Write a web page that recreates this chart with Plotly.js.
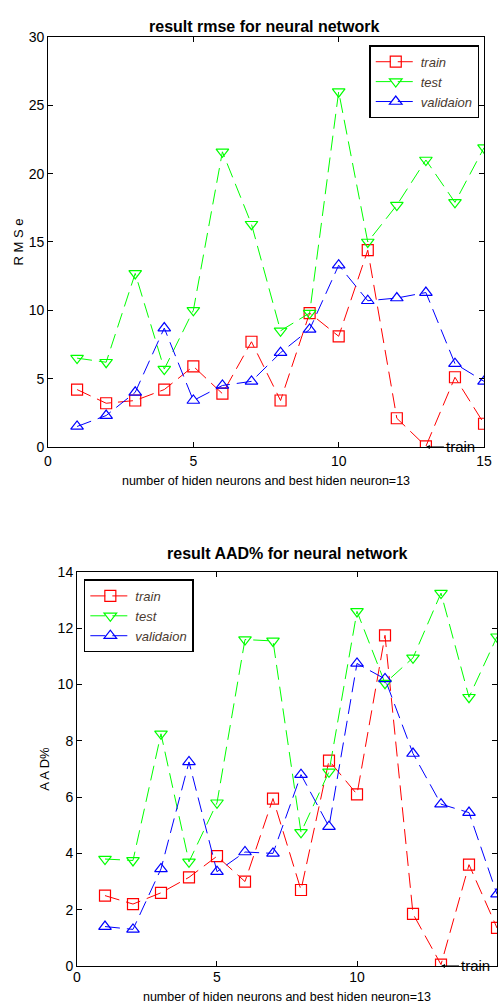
<!DOCTYPE html>
<html><head><meta charset="utf-8">
<script src="https://cdn.plot.ly/plotly-3.0.1.min.js"></script>
<style>body{margin:0;padding:0;background:#fff}#c{width:499px;height:1006px}</style>
</head><body><div id="c"></div>
<script>
const neurons = [1,2,3,4,5,6,7,8,9,10,11,12,13,14,15];
const rmseTrain = [4.2,3.2,3.4,4.2,5.9,3.9,7.7,3.4,9.8,8.1,14.4,2.1,0.05,5.1,1.7];
const rmseTest  = [6.5,6.2,12.7,5.7,10.0,21.6,16.3,8.5,9.8,26.0,15.0,17.7,21.0,17.9,21.9];
const rmseVal   = [1.5,2.3,4.0,8.7,3.4,4.5,4.8,6.9,8.6,13.3,10.7,10.9,11.3,6.1,4.8];
const aadTrain = [2.5,2.2,2.6,3.15,3.9,3.0,5.95,2.7,7.3,6.1,11.75,1.85,0.05,3.6,1.35];
const aadTest  = [3.8,3.75,8.25,3.7,5.8,11.6,11.55,4.75,6.9,12.6,10.05,10.95,13.25,9.55,11.7];
const aadVal   = [1.4,1.3,3.45,7.25,3.35,4.05,4.0,6.8,4.95,10.75,10.2,7.55,5.75,5.45,2.55];
const seriesNames = ['train','test','validaion'];

const FF = 'Liberation Sans, Arial, sans-serif';
const colors = ['#ff0000','#00ff00','#0000ff'];
const symbols = ['square-open','triangle-down-open','triangle-up-open'];
const dash = '15px,7px';
function tr(y, i, xa, ya, leg){
  return {x: neurons, y: y, name: seriesNames[i], xaxis: xa, yaxis: ya, legend: leg,
    mode: 'lines+markers', line: {color: colors[i], width: 1, dash: dash},
    marker: {symbol: symbols[i], size: 11, color: colors[i], line: {width: 1.2, color: colors[i]}}};
}
const data = [
  tr(rmseTrain,0,'x','y','legend'), tr(rmseTest,1,'x','y','legend'), tr(rmseVal,2,'x','y','legend'),
  tr(aadTrain,0,'x2','y2','legend2'), tr(aadTest,1,'x2','y2','legend2'), tr(aadVal,2,'x2','y2','legend2')
];
const tickFont = {family: FF, size: 14, color: '#000'};
function ax(extra){
  return Object.assign({showgrid:false, zeroline:false, showline:true, linecolor:'#000', linewidth:1,
    mirror:'ticks', ticks:'inside', ticklen:5, tickcolor:'#000', tickfont: tickFont}, extra);
}
const legStyle = {bgcolor:'#fff', bordercolor:'#000', borderwidth:1.5,
  font:{family:FF, size:13, color:'#4a3a30', style:'italic'},
  tracegroupgap:0, itemwidth:40};
const xTitle = 'number of hiden neurons and best hiden neuron=13';
const layout = {
  width: 499, height: 1006, margin: {l:0, r:0, t:0, b:0}, paper_bgcolor:'#fff', plot_bgcolor:'#fff',
  showlegend: true,
  xaxis: ax({domain:[0.0962,0.970], anchor:'y', range:[0,15], tickvals:[0,5,10,15], ticklabelstandoff:1,
    title:{text:xTitle, font:{family:FF, size:12.5, color:'#000'}, standoff:8}}),
  yaxis: ax({domain:[0.5557,0.9632], anchor:'x', range:[0,30], tickvals:[0,5,10,15,20,25,30],
    title:{text:'R M S e', font:{family:FF, size:13, color:'#000'}, standoff:2}}),
  xaxis2: ax({domain:[0.1543,0.996], anchor:'y2', range:[0,15], tickvals:[0,5,10,15], ticklabelstandoff:-2,
    title:{text:xTitle, font:{family:FF, size:12.5, color:'#000'}, standoff:8}}),
  yaxis2: ax({domain:[0.0398,0.4314], anchor:'x2', range:[0,14], tickvals:[0,2,4,6,8,10,12,14],
    title:{text:'A A D%', font:{family:FF, size:13, color:'#000'}, standoff:5}}),
  legend: Object.assign({x:0.74, y:0.955, xanchor:'left', yanchor:'top'}, legStyle),
  legend2: Object.assign({x:0.168, y:0.424, xanchor:'left', yanchor:'top'}, legStyle),
  annotations: [
    {xref:'paper', yref:'paper', x:0.53, y:1-16/1006, text:'<b>result rmse for neural network</b>', showarrow:false,
      font:{family:FF, size:16, color:'#000'}},
    {xref:'paper', yref:'paper', x:0.575, y:1-553/1006, text:'<b>result AAD% for neural network</b>', showarrow:false,
      font:{family:FF, size:16, color:'#000'}},
    {xref:'x', yref:'y', x:13, y:0, text:'train', showarrow:true, arrowhead:2, arrowsize:0.8, arrowwidth:1, arrowcolor:'#000',
      ax:18, ay:0, xanchor:'left', font:{family:FF, size:15, color:'#000'}},
    {xref:'x2', yref:'y2', x:13, y:0, text:'train', showarrow:true, arrowhead:2, arrowsize:0.8, arrowwidth:1, arrowcolor:'#000',
      ax:18, ay:0, xanchor:'left', font:{family:FF, size:15, color:'#000'}}
  ]
};
Plotly.newPlot('c', data, layout, {displayModeBar:false, staticPlot:true});
</script></body></html>
